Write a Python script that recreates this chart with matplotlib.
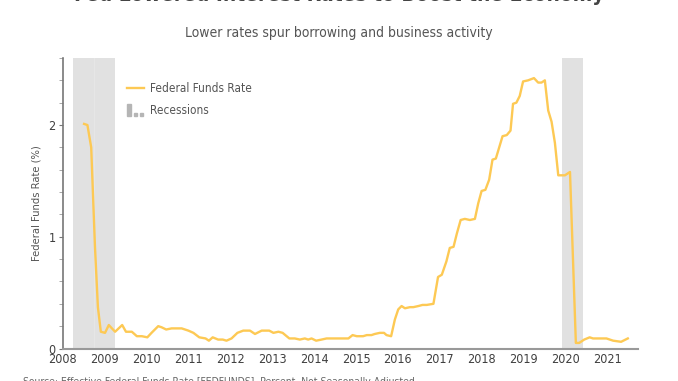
import matplotlib
matplotlib.use("Agg")
import matplotlib.pyplot as plt
from matplotlib import font_manager
from matplotlib.patches import Rectangle
import numpy as np

# data (decimal years, percent)
dates = [2008.51, 2008.59, 2008.68, 2008.77, 2008.84, 2008.91, 2009.01, 2009.10,
         2009.25, 2009.42, 2009.51, 2009.65, 2009.77, 2009.89, 2010.02, 2010.12,
         2010.28, 2010.36, 2010.47, 2010.60, 2010.84, 2011.00, 2011.12, 2011.26,
         2011.41, 2011.49, 2011.58, 2011.71, 2011.82, 2011.91, 2012.03, 2012.17,
         2012.31, 2012.47, 2012.59, 2012.75, 2012.93, 2013.03, 2013.15, 2013.25,
         2013.41, 2013.54, 2013.66, 2013.78, 2013.86, 2013.94, 2014.05, 2014.18,
         2014.30, 2014.42, 2014.50, 2014.82, 2014.92, 2015.02, 2015.17, 2015.26,
         2015.37, 2015.45, 2015.57, 2015.67, 2015.73, 2015.84, 2015.93, 2016.01,
         2016.09, 2016.17, 2016.29, 2016.37, 2016.49, 2016.59, 2016.69, 2016.85,
         2016.96, 2017.05, 2017.16, 2017.24, 2017.33, 2017.41, 2017.50, 2017.60,
         2017.72, 2017.84, 2017.92, 2018.00, 2018.09, 2018.18, 2018.26, 2018.34,
         2018.50, 2018.60, 2018.69, 2018.75, 2018.83, 2018.91, 2018.99, 2019.11,
         2019.25, 2019.35, 2019.43, 2019.51, 2019.59, 2019.67, 2019.75, 2019.83,
         2019.99, 2020.11, 2020.25, 2020.33, 2020.45, 2020.58, 2020.66, 2020.98,
         2021.14, 2021.33, 2021.49]
rates = [2.01, 2.00, 1.80, 0.91, 0.37, 0.15, 0.14, 0.21,
         0.15, 0.21, 0.15, 0.15, 0.11, 0.11, 0.10, 0.14,
         0.20, 0.19, 0.17, 0.18, 0.18, 0.16, 0.14, 0.10,
         0.09, 0.07, 0.10, 0.08, 0.08, 0.07, 0.09, 0.14,
         0.16, 0.16, 0.13, 0.16, 0.16, 0.14, 0.15, 0.14,
         0.09, 0.09, 0.08, 0.09, 0.08, 0.09, 0.07, 0.08,
         0.09, 0.09, 0.09, 0.09, 0.12, 0.11, 0.11, 0.12,
         0.12, 0.13, 0.14, 0.14, 0.12, 0.11, 0.26, 0.35,
         0.38, 0.36, 0.37, 0.37, 0.38, 0.39, 0.39, 0.40,
         0.64, 0.66, 0.78, 0.90, 0.91, 1.03, 1.15, 1.16,
         1.15, 1.16, 1.30, 1.41, 1.42, 1.51, 1.69, 1.70,
         1.90, 1.91, 1.95, 2.19, 2.20, 2.26, 2.39, 2.40,
         2.42, 2.38, 2.38, 2.40, 2.13, 2.03, 1.84, 1.55,
         1.55, 1.58, 0.05, 0.05, 0.08, 0.10, 0.09, 0.09,
         0.07, 0.06, 0.09]

recession_starts = [2008.25, 2008.75, 2019.93]
recession_ends = [2008.75, 2009.26, 2020.41]

year_ticks = list(range(2008, 2022))

# condensed font if we have one
names = {f.name for f in font_manager.fontManager.ttflist}
if "Liberation Sans Narrow" in names:
    plt.rcParams["font.family"] = ["Liberation Sans Narrow", "DejaVu Sans"]
else:
    plt.rcParams["font.family"] = ["DejaVu Sans"]
    plt.rcParams["font.stretch"] = "condensed"

LINE = "#FDC954"
GREY_TXT = "#555555"
REC = "#e1e1e1"

fig = plt.figure(figsize=(6.78, 3.81), dpi=100)
ax = fig.add_axes([0.0925, 0.0853, 0.8489, 0.7625])

for s, e in zip(recession_starts, recession_ends):
    ax.axvspan(s, e, color=REC, lw=0, zorder=0)
# faint seam between the two shaded blocks of 2008-09
ax.axvline(recession_ends[0], color="#e8e8e8", lw=0.6, zorder=1)

fed_line, = ax.plot(dates, rates, color=LINE, lw=1.7, zorder=2)

ax.set_xlim(2008, 2021.74)
ax.set_ylim(0, 2.6)
ax.set_xticks(year_ticks)
ax.set_xticklabels([str(y) for y in year_ticks])
ax.set_yticks([0, 1, 2])
ax.set_yticks(np.arange(0, 2.61, 0.2), minor=True)

for side in ["top", "right"]:
    ax.spines[side].set_visible(False)
ax.spines["left"].set_color("#777777")
ax.spines["bottom"].set_color("#999999")
ax.spines["left"].set_linewidth(1.2)
ax.spines["bottom"].set_linewidth(1.5)
ax.tick_params(axis="x", length=0, pad=3, labelsize=9, labelcolor="#3f3f3f")
ax.tick_params(axis="y", which="major", length=3, color="#777777", pad=2,
               labelsize=9, labelcolor="#3f3f3f")
ax.tick_params(axis="y", which="minor", length=3, color="#999999")
ax.set_ylabel("Federal Funds Rate (%)", fontsize=8, color=GREY_TXT)
ax.yaxis.set_label_coords(-0.036, 0.5)


class RecessionHandler:
    def legend_artist(self, legend, orig_handle, fontsize, handlebox):
        x0, y0 = handlebox.xdescent, handlebox.ydescent
        w, h = handlebox.width, handlebox.height
        bars = [Rectangle((x0, y0 - 2), w * 0.22, h + 3, color="#b5b5b5"),
                Rectangle((x0 + w * 0.42, y0 - 2), w * 0.2, h * 0.45, color="#b5b5b5"),
                Rectangle((x0 + w * 0.78, y0 - 2), w * 0.2, h * 0.45, color="#b5b5b5")]
        for b in bars:
            handlebox.add_artist(b)
        return bars[0]


rec_handle = Rectangle((0, 0), 1, 1)
leg = ax.legend([fed_line, rec_handle], ["Federal Funds Rate", "Recessions"],
                handler_map={Rectangle: RecessionHandler()},
                loc="upper left", bbox_to_anchor=(0.112, 0.918), frameon=False,
                borderpad=0, borderaxespad=0,
                fontsize=8.5, handlelength=1.4, handletextpad=0.5, labelspacing=0.75,
                labelcolor=GREY_TXT)

fig.text(0.5, 0.997, "Fed Lowered Interest Rates to Boost the Economy",
         ha="center", va="baseline", fontsize=15, fontweight="bold", color="#444444")
fig.text(0.5, 0.913, "Lower rates spur borrowing and business activity",
         ha="center", va="center", fontsize=10, color=GREY_TXT)
fig.text(0.034, 0.0105, "Source: Effective Federal Funds Rate [FEDFUNDS], Percent, Not Seasonally Adjusted",
         ha="left", va="top", fontsize=7.5, color="#666666")

fig.savefig("out.png", dpi=100)
